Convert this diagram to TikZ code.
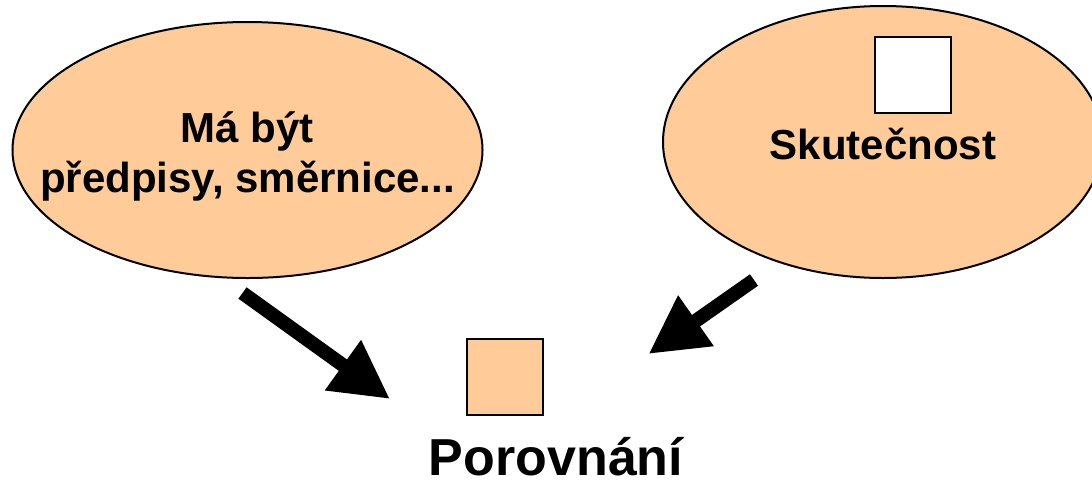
\documentclass[tikz,border=0pt]{standalone}
\usepackage{fontspec}
\setmainfont{Liberation Sans}
\usetikzlibrary{shapes.geometric,arrows.meta}
\definecolor{peach}{RGB}{255,204,153}
\begin{document}
\begin{tikzpicture}[x=1pt,y=-1pt,
  ell/.style={ellipse, draw, line width=2pt, fill=peach, inner sep=0pt},
  sqbox/.style={rectangle, draw, line width=2pt, minimum size=76pt, inner sep=0pt},
  lbl/.style={font=\bfseries\fontsize{42}{48}\selectfont, anchor=base, inner sep=0pt},
  bigarrow/.style={line width=14pt, -{Triangle[length=58pt,width=58pt]}}]
\useasboundingbox (0,0) rectangle (1092,480);
\clip (0,0) rectangle (1092,480);
\node[ell, minimum width=470pt, minimum height=256pt] (L) at (247.5,150) {};
\node[lbl] (Lt1) at (247.5,142) {Má být};
\node[lbl] (Lt2) at (247.5,192) {předpisy, směrnice...};
\node[ell, minimum width=440pt, minimum height=272pt] (R) at (883,142) {};
\node[sqbox, fill=white] (W) at (913,75) {};
\node[lbl] (Rt) at (883,159) {Skutečnost};
\node[sqbox, fill=peach] (O) at (504.5,377) {};
\node[lbl, font=\bfseries\fontsize{52}{58}\selectfont] (P) at (556,475) {Porovnání};
\coordinate (a1s) at (242.5,293);
\coordinate (a1e) at (390,399);
\coordinate (a2s) at (754,280);
\coordinate (a2e) at (648.5,354);
\draw[bigarrow] (a1s) -- (a1e);
\draw[bigarrow] (a2s) -- (a2e);
\end{tikzpicture}
\end{document}
